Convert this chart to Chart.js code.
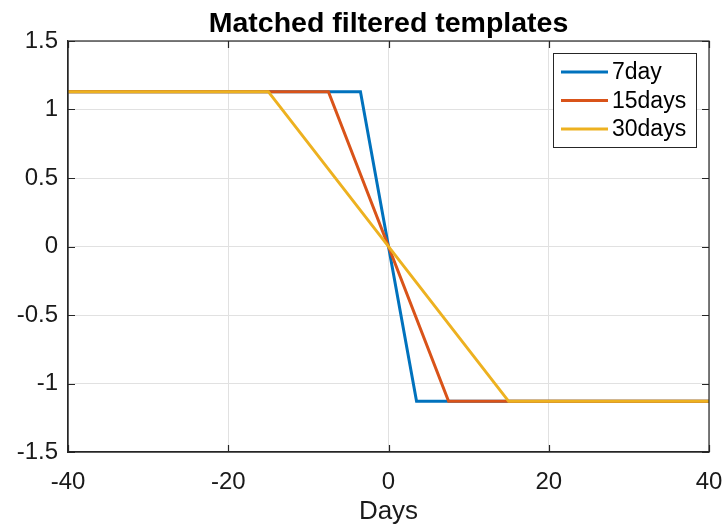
<!DOCTYPE html>
<html>
<head>
<meta charset="utf-8">
<script src="https://cdn.jsdelivr.net/npm/chart.js@4/dist/chart.umd.min.js"></script>
<style>
  html, body { margin: 0; padding: 0; background: #fff; }
  #wrap { width: 722px; height: 527px; }
</style>
</head>
<body>
<div id="wrap"><canvas id="templates" width="722" height="527"></canvas></div>
<script>
// Matched filter templates: step from +level to -level over a window of N days
const seriesNames = ['7day', '15days', '30days'];
const seriesColors = ['#0072BD', '#D95319', '#EDB120'];

const day7X = [-40, -3.5, 3.5, 40];
const day7Y = [1.13, 1.13, -1.13, -1.13];
const day15X = [-40, -7.5, 7.5, 40];
const day15Y = [1.13, 1.13, -1.13, -1.13];
const day30X = [-40, -15, 15, 40];
const day30Y = [1.13, 1.13, -1.13, -1.13];

const xTicks = [-40, -20, 0, 20, 40];
const yTicks = [-1.5, -1, -0.5, 0, 0.5, 1, 1.5];
const yTickLabels = ['-1.5', '-1', '-0.5', '0', '0.5', '1', '1.5'];

const FONT = "'Liberation Sans', Arial, Helvetica, sans-serif";
const AXIS = '#262626';

const pts = (xs, ys) => xs.map((x, i) => ({ x, y: ys[i] }));
const seriesData = [pts(day7X, day7Y), pts(day15X, day15Y), pts(day30X, day30Y)];

// box, inward ticks, title and boxed legend drawn on top of the plot
const matlabLook = {
  id: 'matlabLook',
  afterDraw(chart) {
    const { ctx, chartArea: a, scales: { x, y } } = chart;
    ctx.save();
    ctx.strokeStyle = AXIS;
    ctx.lineWidth = 1.2;
    ctx.strokeRect(a.left, a.top, a.right - a.left, a.bottom - a.top);
    const tl = 7;
    ctx.beginPath();
    xTicks.forEach(v => {
      const px = Math.round(x.getPixelForValue(v)) + 0.5;
      ctx.moveTo(px, a.bottom); ctx.lineTo(px, a.bottom - tl);
      ctx.moveTo(px, a.top); ctx.lineTo(px, a.top + tl);
    });
    yTicks.forEach(v => {
      const py = Math.round(y.getPixelForValue(v)) + 0.5;
      ctx.moveTo(a.left, py); ctx.lineTo(a.left + tl, py);
      ctx.moveTo(a.right, py); ctx.lineTo(a.right - tl, py);
    });
    ctx.stroke();

    // title
    ctx.fillStyle = '#000';
    ctx.font = 'bold 28.5px ' + FONT;
    ctx.textAlign = 'center';
    ctx.textBaseline = 'alphabetic';
    ctx.fillText('Matched filtered templates', (a.left + a.right) / 2, 32);

    // legend
    const bx = a.right - 156, by = a.top + 12, bw = 143, bh = 94;
    ctx.fillStyle = '#fff';
    ctx.fillRect(bx, by, bw, bh);
    ctx.lineWidth = 1;
    ctx.strokeStyle = AXIS;
    ctx.strokeRect(bx + 0.5, by + 0.5, bw, bh);
    ctx.font = '23px ' + FONT;
    ctx.textAlign = 'left';
    ctx.textBaseline = 'middle';
    seriesNames.forEach((name, i) => {
      const ry = by + 19 + i * 28.5;
      ctx.strokeStyle = seriesColors[i];
      ctx.lineWidth = 3;
      ctx.beginPath();
      ctx.moveTo(bx + 8, ry); ctx.lineTo(bx + 55, ry);
      ctx.stroke();
      ctx.fillStyle = '#000';
      ctx.fillText(name, bx + 59, ry + 1);
    });
    ctx.restore();
  }
};

new Chart(document.getElementById('templates'), {
  type: 'scatter',
  data: {
    datasets: seriesNames.map((name, i) => ({
      label: name,
      data: seriesData[i],
      showLine: true,
      borderColor: seriesColors[i],
      backgroundColor: seriesColors[i],
      borderWidth: 3,
      pointRadius: 0,
      tension: 0,
      order: 3 - i,
    })),
  },
  options: {
    responsive: false,
    animation: false,
    layout: { padding: { top: 41, right: 13, left: 0, bottom: 0 } },
    plugins: { legend: { display: false }, title: { display: false }, tooltip: { enabled: false } },
    scales: {
      x: {
        type: 'linear', min: -40, max: 40,
        afterBuildTicks: s => { s.ticks = xTicks.map(v => ({ value: v })); },
        afterFit: s => { s.height = 75; s.paddingLeft = 0; s.paddingRight = 0; },
        grid: { color: '#e1e1e1', drawTicks: false },
        border: { color: AXIS, width: 1.2 },
        ticks: { color: '#1a1a1a', font: { family: FONT, size: 24 }, padding: 16, maxRotation: 0 },
        title: { display: true, text: 'Days', color: '#1a1a1a', font: { family: FONT, size: 26 }, padding: { top: 0, bottom: 0 } },
      },
      y: {
        type: 'linear', min: -1.5, max: 1.5,
        afterBuildTicks: s => { s.ticks = yTicks.map(v => ({ value: v })); },
        afterFit: s => { s.width = 68; s.paddingTop = 0; s.paddingBottom = 0; },
        grid: { color: '#e1e1e1', drawTicks: false },
        border: { color: AXIS, width: 1.2 },
        ticks: {
          color: '#1a1a1a', font: { family: FONT, size: 24 }, padding: 10,
          callback: v => yTickLabels[yTicks.indexOf(v)],
        },
      },
    },
  },
  plugins: [matlabLook],
});
</script>
</body>
</html>
